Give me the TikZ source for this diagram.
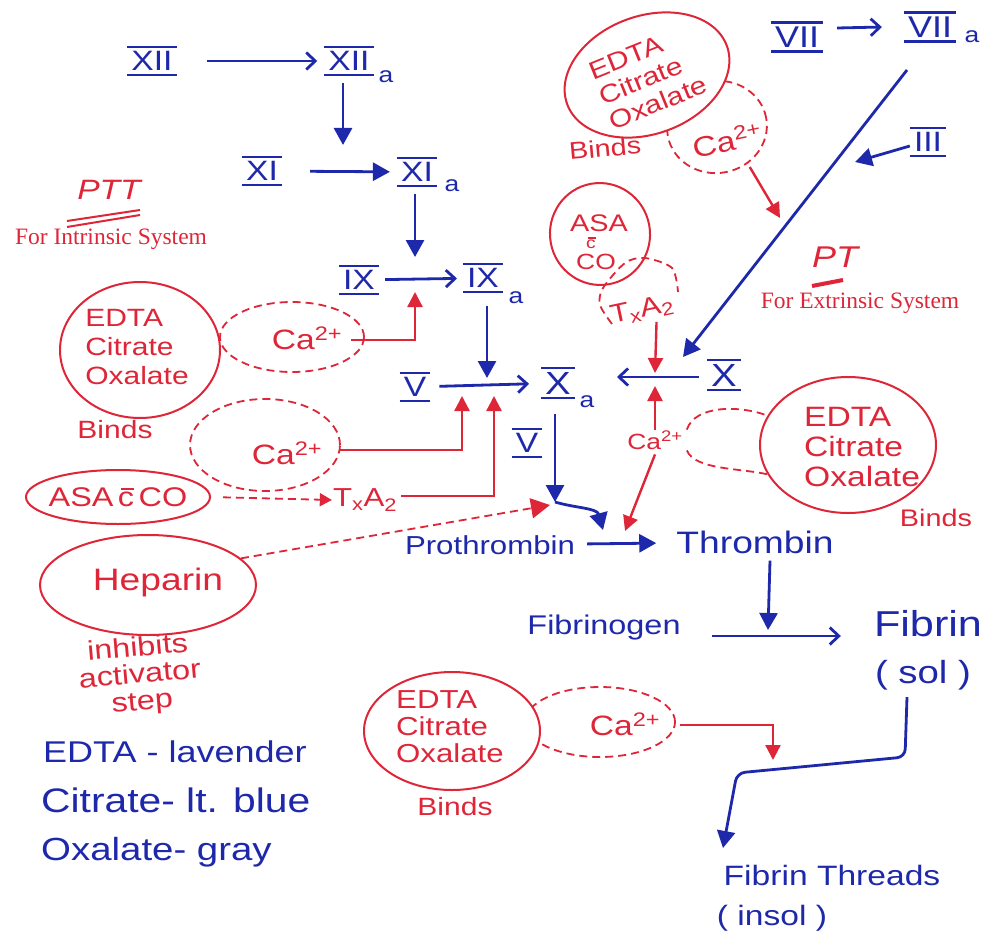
\documentclass[tikz,border=0pt]{standalone}
\usepackage{fontspec}
\setmainfont{Liberation Sans}
\newfontfamily\hand[FakeStretch=1.2]{Liberation Sans}
\newfontfamily\typedfont{Liberation Serif}
\usetikzlibrary{arrows.meta,shapes.geometric}
\definecolor{pb}{RGB}{30,40,170}
\definecolor{pr}{RGB}{222,38,56}
\newcommand\cbar{\leavevmode\hbox{c\llap{\rule[0.62em]{0.48em}{0.07em}}}}
\tikzset{
 hb/.style={text=pb, font={\hand\fontsize{#1}{#1}\selectfont}, inner sep=1pt},
 hr/.style={text=pr, font={\hand\fontsize{#1}{#1}\selectfont}, inner sep=1pt, align=center},
 typed/.style={text=pr, font={\typedfont\fontsize{23.5}{26}\selectfont}, inner sep=0pt},
 rom/.style={hb=#1, inner xsep=4pt, inner ysep=4pt,
   append after command={(\tikzlastnode.north west) edge[draw=pb, line width=2.4pt] (\tikzlastnode.north east)
   (\tikzlastnode.south west) edge[draw=pb, line width=2.4pt] (\tikzlastnode.south east)}},
 rom/.default=28,
 subs/.style={hb=22},
 bl/.style={draw=pb, line width=2.8pt},
 barf/.style={bl, -{Triangle[length=17pt,width=18pt]}},
 baro/.style={bl, -{Straight Barb[length=9pt,width=17pt]}},
 rl/.style={draw=pr, line width=2.4pt},
 redf/.style={rl, -{Triangle[length=15pt,width=15pt]}},
 rdash/.style={draw=pr, line width=1.8pt, dash pattern=on 8pt off 5pt},
 edta/.style={draw=pr, line width=2pt, fill=white, ellipse, inner sep=0pt},
 caell/.style={rdash, ellipse, inner sep=0pt},
}
\begin{document}
\begin{tikzpicture}[x=1pt,y=-1pt]
\useasboundingbox[fill=white] (0,0) rectangle (998,947);

% ---------- dashed Ca2+ ellipses (drawn first) ----------
\node[caell, minimum width=144, minimum height=70] (ca1e) at (292,337) {};
\node[caell, minimum width=150, minimum height=92] (ca2e) at (265,445) {};
\node[caell, minimum width=100, minimum height=92, rotate=10] (ca3e) at (717,127) {};
\node[caell, minimum width=150, minimum height=70] (ca5e) at (600,722) {};

% ---------- solid red ellipses ----------
\node[edta, minimum width=160, minimum height=136] (e1) at (140,350) {};
\node[edta, minimum width=170, minimum height=118, rotate=20] (e2) at (647,75) {};
\node[edta, minimum width=176, minimum height=136] (e3) at (848,445) {};
\node[edta, minimum width=176, minimum height=118] (e4) at (452,731) {};
\node[edta, minimum width=184, minimum height=54] (asa1) at (118,497) {};
\node[edta, minimum width=216, minimum height=100] (hep) at (148,585) {};
\node[edta, minimum width=100, minimum height=102, rotate=10] (asa2) at (600,234) {};

% ---------- red texts ----------
\node[hr=25, align=left] (e1t) at (137,347) {EDTA\\[4pt]Citrate\\[4pt]Oxalate};
\node[hr=25, align=left, rotate=22] (e2t) at (648,78) {EDTA\\[2pt]Citrate\\[2pt]Oxalate};
\node[hr=28, align=left, anchor=west] (e3t) at (803,447) {EDTA\\[2pt]Citrate\\[2pt]Oxalate};
\node[hr=26, align=left, anchor=west] (e4t) at (395,727) {EDTA\\[1pt]Citrate\\[1pt]Oxalate};
\node[hr=25] (b1) at (115,430) {Binds};
\node[hr=24, rotate=5] (b2) at (605,148) {Binds};
\node[hr=24] (b3) at (936,518) {Binds};
\node[hr=25] (b4) at (455,807) {Binds};

\node[hr=28] (ca1) at (307,338) {Ca\textsuperscript{2+}};
\node[hr=28] (ca2) at (287,453) {Ca\textsuperscript{2+}};
\node[hr=28, rotate=12] (ca3) at (727,140) {Ca\textsuperscript{2+}};
\node[hr=22] (ca4) at (655,440) {Ca\textsuperscript{2+}};
\node[hr=28] (ca5) at (625,724) {Ca\textsuperscript{2+}};

\node[hr=26] (t1) at (365,500) {T\textsubscript{x}A\textsubscript{2}};
\node[hr=26, rotate=12] (t2) at (642,310) {T\textsubscript{x}A\textsubscript{2}};

\node[hr=27] (asa1t) at (118,497) {ASA\,\cbar\,CO};
\node[hr=24] (asa2a) at (599,223) {ASA};
\node[hr=16] (asa2b) at (591,243) {\cbar};
\node[hr=22] (asa2c) at (596,262) {CO};

\node[hr=31] (hept) at (158,582) {Heparin};
\node[hr=27, rotate=5] (inh) at (140,676) {inhibits\\activator\\step};

\node[hr=28, font={\hand\itshape\fontsize{28}{28}\selectfont}] (ptt) at (109,190) {PTT};
\draw[rl, line width=2pt] (67,221) -- (140,210);
\draw[rl, line width=2pt] (67,227) -- (140,215);
\node[typed] (intr) at (111,239) {For Intrinsic System};
\node[hr=30, font={\hand\itshape\fontsize{30}{30}\selectfont}] (pt) at (835,257) {PT};
\draw[rl, line width=4pt] (812,286) -- (843,280);
\node[typed] (extr) at (860,303) {For Extrinsic System};

% TxA2 dashed bracket and right Ca2+ dashed curves
\draw[rdash] plot[smooth] coordinates {(612,324) (600,305) (603,288) (625,263) (645,258) (672,268) (678,292)};
\draw[rdash] ([xshift=3pt]ca4.north east) .. controls (695,405) and (740,405) .. (e3.160);
\draw[rdash] ([xshift=3pt]ca4.south east) .. controls (695,470) and (740,468) .. (e3.200);

% ---------- blue nodes ----------
\node[rom] (xii) at (152,61) {XII};
\node[rom] (xiia) at (349,61) {XII};
\node[subs] (xiias) at (386,77) {a};
\node[rom] (xi) at (262,171) {XI};
\node[rom] (xia) at (417,172) {XI};
\node[subs] (xias) at (452,186) {a};
\node[rom] (ix) at (359,280) {IX};
\node[rom] (ixa) at (483,278) {IX};
\node[subs] (ixas) at (516,298) {a};
\node[rom] (v1) at (415,387) {V};
\node[rom=32] (xa) at (558,383) {X};
\node[subs] (xas) at (587,402) {a};
\node[rom] (v2) at (527,443) {V};
\node[rom=32] (x) at (724,375) {X};
\node[rom=30] (vii) at (797,37) {VII};
\node[rom=30] (viia) at (930,27) {VII};
\node[subs] (viias) at (972,37) {a};
\node[rom] (iii) at (928,142) {III};

\node[hb=26] (proth) at (490,545) {Prothrombin};
\node[hb=31] (thromb) at (755,542) {Thrombin};
\node[hb=27] (fbg) at (604,628) {Fibrinogen};
\node[hb=36] (fib) at (928,624) {Fibrin};
\node[hb=32] (sol) at (923,675) {( sol )};
\node[hb=28] (thr) at (832,875) {Fibrin Threads};
\node[hb=28] (insol) at (772,918) {( insol )};

\node[hb=30, anchor=west] (lg1) at (42,752) {EDTA - lavender};
\node[hb=34, anchor=west] (lg2) at (40,800) {Citrate- lt. blue};
\node[hb=32, anchor=west] (lg3) at (40,852) {Oxalate- gray};

% ---------- blue connectors ----------
\draw[baro, shorten <=30pt, shorten >=7pt] (xii) -- (xiia);
\coordinate (c1) at (343,145);
\draw[barf] ([xshift=-6pt,yshift=-8pt]xiia.south) -- (c1);
\draw[barf, shorten <=28pt, shorten >=7pt] (xi) -- (xia);
\coordinate (c2) at (415,257);
\draw[barf] ([xshift=-2pt,yshift=-8pt]xia.south) -- (c2);
\draw[baro, shorten <=6pt, shorten >=6pt] (ix) -- (ixa);
\coordinate (c3) at (487,378);
\draw[barf] ([xshift=4pt,yshift=-14pt]ixa.south) -- (c3);
\draw[baro, shorten <=9pt, shorten >=12pt] (v1) -- (xa);
\coordinate (c4) at (555,502);
\draw[barf] ([xshift=-3pt,yshift=-16pt]xa.south) -- (c4);
\coordinate (c5) at (603,530);
\draw[barf] (c4) .. controls (575,508) and (597,508) .. (c5);
\coordinate (c6) at (617,377);
\draw[baro] ([xshift=-8pt,yshift=-2pt]x.west) -- (c6);
\draw[baro] ([xshift=14pt,yshift=9pt]vii.east) -- ([xshift=-22pt]viia.west);
\coordinate (lstart) at (907,70);
\coordinate (c7) at (683,357);
\draw[barf] (lstart) -- (c7);
\coordinate (c9) at (855,162);
\draw[barf] ([yshift=-4pt]iii.west) -- (c9);
\draw[barf, shorten <=11pt, shorten >=19pt] (proth) -- (thromb);
\coordinate (c10) at (768,630);
\draw[barf] ([xshift=15pt,yshift=-6pt]thromb.south) -- (c10);
\draw[baro] ([xshift=30pt,yshift=-8pt]fbg.east) -- ([xshift=-32pt,yshift=-12pt]fib.west);
\coordinate (b1c) at (905,757);
\coordinate (b2c) at (737,773);
\coordinate (c11) at (723,848);
\draw[barf, rounded corners=8pt] ([xshift=-16pt,yshift=-6pt]sol.south) -- (b1c) -- (b2c) -- (c11);

% ---------- red connectors ----------
\coordinate (r1) at (415,292);
\draw[redf] ([xshift=-14pt,yshift=-3pt]ca1e.east) -| (r1);
\coordinate (r2) at (462,396);
\draw[redf] ([xshift=-2pt,yshift=-5pt]ca2e.east) -| (r2);
\coordinate (r3) at (494,396);
\draw[redf] ([xshift=3pt,yshift=4pt]t1.east) -| (r3);
\draw[rdash, -{Triangle[length=12pt,width=13pt]}, shorten <=12pt] (asa1.east) -- (t1.west);
\coordinate (r4) at (550,505);
\draw[rdash, -{Triangle[length=19pt,width=20pt]}] (hep.16) -- (r4);
\coordinate (r5) at (780,218);
\draw[redf, shorten <=4pt] (ca3e.300) -- (r5);
\coordinate (r6) at (655,373);
\draw[redf] ([xshift=12pt]t2.south) -- (r6);
\coordinate (r7) at (655,386);
\draw[redf] (ca4.north) -- (r7);
\coordinate (r8) at (625,531);
\draw[redf] ([yshift=-4pt]ca4.south) -- (r8);
\coordinate (r9) at (773,760);
\draw[redf] ([xshift=4pt,yshift=-3pt]ca5e.east) -| (r9);
\end{tikzpicture}
\end{document}
